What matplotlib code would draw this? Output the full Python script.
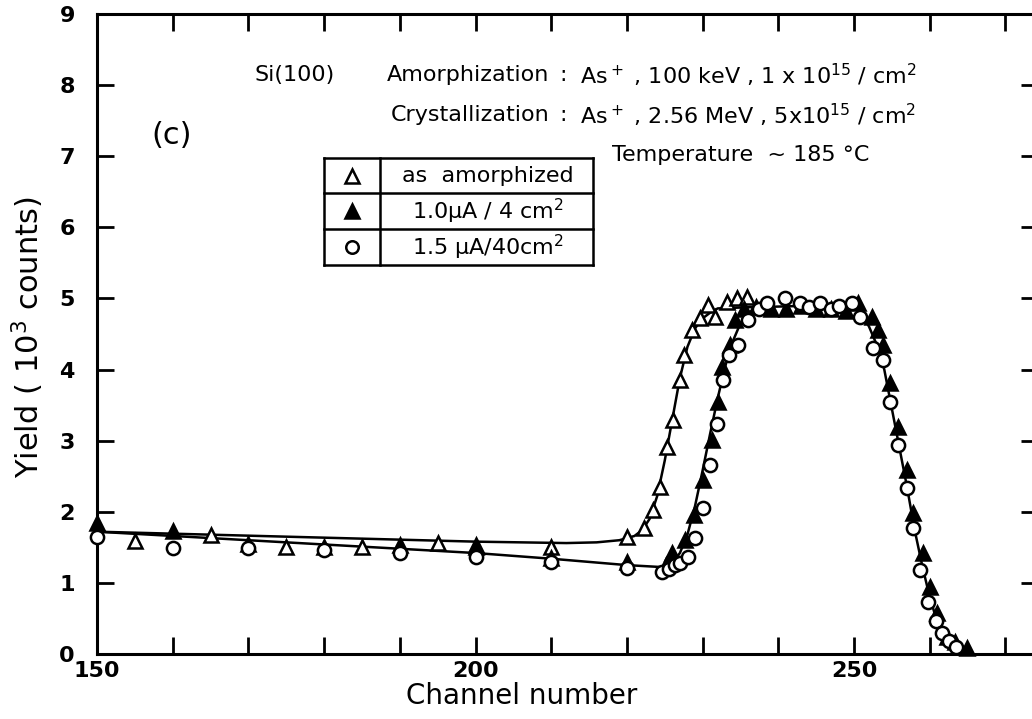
import matplotlib
matplotlib.use('Agg')
import matplotlib.pyplot as plt
from matplotlib.lines import Line2D

plt.rcParams['font.family'] = ['DejaVu Sans']
plt.rcParams['mathtext.default'] = 'regular'

W, H = 1032, 719

# open triangles: as amorphized
amorph_x = [155, 165, 175, 185, 195, 200, 210, 220, 222.2, 223.4, 224.4, 225.3, 226.1,
            227.0, 227.6, 228.6, 229.7, 230.7, 231.7, 233.2, 234.6, 235.9]
amorph_y = [1.59, 1.67, 1.51, 1.51, 1.56, 1.53, 1.51, 1.65, 1.77, 2.03, 2.35, 2.91, 3.29,
            3.85, 4.20, 4.56, 4.73, 4.91, 4.74, 4.95, 5.00, 5.02]

# filled triangles: 1.0 uA/4 cm2
low_x = [150, 160, 170, 180, 190, 200, 210, 220, 225.2, 226.0, 227.7, 228.8, 230.0, 231.2,
         232.1, 232.6, 233.6, 234.3, 235.5, 237, 239, 241, 243, 245, 247, 249, 250.5,
         252.4, 253.2, 253.8, 254.7, 255.8, 257.0, 257.8, 259.1, 260.0, 261.0, 262.3,
         263.3, 264.9]
low_y = [1.84, 1.73, 1.55, 1.50, 1.53, 1.50, 1.35, 1.30, 1.25, 1.42, 1.60, 1.95, 2.45, 3.01,
         3.54, 4.04, 4.35, 4.70, 4.85, 4.88, 4.85, 4.85, 4.90, 4.85, 4.85, 4.82, 4.94,
         4.74, 4.56, 4.35, 3.81, 3.19, 2.59, 1.98, 1.42, 0.94, 0.58, 0.24, 0.17, 0.08]

# open circles: 1.5 uA/40 cm2
high_x = [150, 160, 170, 180, 190, 200, 210, 220, 224.7, 225.5, 226.3, 227.0, 228.1, 229.0,
          230.0, 231.0, 231.9, 232.7, 233.5, 234.7, 236.0, 237.5, 238.5, 240.9, 242.9,
          244.0, 245.5, 247.0, 248.0, 249.7, 250.8, 252.5, 253.8, 254.7, 255.8, 257.0,
          257.8, 258.7, 259.8, 260.8, 261.6, 262.5, 263.5]
high_y = [1.65, 1.49, 1.49, 1.46, 1.42, 1.36, 1.29, 1.21, 1.16, 1.20, 1.25, 1.28, 1.36, 1.63,
          2.05, 2.66, 3.23, 3.85, 4.20, 4.35, 4.70, 4.85, 4.94, 5.00, 4.94,
          4.88, 4.94, 4.85, 4.90, 4.94, 4.74, 4.30, 4.13, 3.54, 2.94, 2.33,
          1.77, 1.18, 0.73, 0.46, 0.30, 0.18, 0.10]

# hand drawn guide curves
fit_a_x = [150, 200, 212, 216, 219, 221, 222, 223, 224, 225, 226, 227, 228, 229, 230,
           231, 232, 237]
fit_a_y = [1.72, 1.58, 1.56, 1.57, 1.60, 1.66, 1.74, 1.90, 2.22, 2.72, 3.30, 3.88, 4.32,
           4.58, 4.72, 4.80, 4.86, 4.88]
fit_c_x = [150, 200, 210, 220, 225, 226, 227, 228, 229, 230, 231, 232, 233, 234, 235,
           236, 238, 245, 250, 251, 252, 253, 254, 255, 256, 257, 258, 259, 260, 261,
           262, 263, 264, 265]
fit_c_y = [1.72, 1.42, 1.34, 1.25, 1.22, 1.28, 1.42, 1.68, 2.08, 2.58, 3.10, 3.60, 4.05,
           4.40, 4.65, 4.80, 4.88, 4.90, 4.88, 4.80, 4.60, 4.35, 4.00, 3.45, 2.90, 2.35,
           1.75, 1.25, 0.80, 0.45, 0.20, 0.08, 0.02, 0.0]

legend_labels = ['as  amorphized', '1.0\u03bcA / 4 cm$^2$', '1.5 \u03bcA/40cm$^2$']


def fx(px):
    return px / W


def fy(py):
    return 1 - py / H


fig = plt.figure(figsize=(W / 100, H / 100), dpi=100)
ax = fig.add_axes([fx(97), fy(654), (1038 - 97) / W, (654 - 14) / H])

ax.plot(fit_a_x, fit_a_y, color='black', lw=1.8, zorder=2)
ax.plot(fit_c_x, fit_c_y, color='black', lw=1.8, zorder=2)

mk = dict(ls='none', markeredgecolor='black', markeredgewidth=1.8, clip_on=False, zorder=3)
ax.plot(amorph_x, amorph_y, marker='^', markersize=10.5, markerfacecolor='white', **mk)
ax.plot(low_x, low_y, marker='^', markersize=10.5, markerfacecolor='black', **mk)
ax.plot(high_x, high_y, marker='o', markersize=9.5, markerfacecolor='white', **mk)

ax.set_xlim(150, 150 + (1038 - 97) / 7.57)
ax.set_ylim(0, 9)
ax.set_xticks([150, 200, 250])
ax.set_xticks(range(150, 275, 10), minor=True)
ax.set_yticks(range(0, 10))
ax.tick_params(which='both', direction='in', top=True, right=True, width=2, length=12)
ax.tick_params(axis='x', pad=5, labelsize=16)
ax.tick_params(axis='y', pad=16, labelsize=16)
for lab in ax.get_xticklabels() + ax.get_yticklabels():
    lab.set_fontweight('bold')
for sp in ax.spines.values():
    sp.set_linewidth(2.2)

fig.text(fx(522), fy(696), 'Channel number', fontsize=20, ha='center', va='center')
fig.text(fx(28), fy(337), 'Yield ( 10$^3$ counts)', fontsize=22, rotation=90,
         ha='center', va='center')
fig.text(fx(172), fy(135), '(c)', fontsize=22, ha='center', va='center')

fs = 16
fig.text(fx(255), fy(75), 'Si(100)', fontsize=fs, va='center')
fig.text(fx(549), fy(75), 'Amorphization', fontsize=fs, va='center', ha='right')
fig.text(fx(549), fy(115), 'Crystallization', fontsize=fs, va='center', ha='right')
fig.text(fx(563), fy(75), ':', fontsize=fs, va='center', ha='center')
fig.text(fx(563), fy(115), ':', fontsize=fs, va='center', ha='center')
fig.text(fx(580), fy(75), 'As$^+$ , 100 keV , 1 x 10$^{15}$ / cm$^2$', fontsize=fs, va='center')
fig.text(fx(580), fy(115), 'As$^+$ , 2.56 MeV , 5x10$^{15}$ / cm$^2$', fontsize=fs, va='center')
fig.text(fx(612), fy(155), 'Temperature  ~ 185 \u00b0C', fontsize=fs, va='center')

# legend box drawn as a small table
bx0, bx1, bcol = 324, 593, 380
rows = [158, 193, 229, 265]
lw_box = 1.8
for r in rows:
    fig.add_artist(Line2D([fx(bx0), fx(bx1)], [fy(r), fy(r)], color='black', lw=lw_box))
for c in [bx0, bcol, bx1]:
    fig.add_artist(Line2D([fx(c), fx(c)], [fy(rows[0]), fy(rows[-1])], color='black', lw=lw_box))

markers = [('^', 'white', 10), ('^', 'black', 10), ('o', 'white', 9)]
for i, (m, fc, ms) in enumerate(markers):
    yc = (rows[i] + rows[i + 1]) / 2
    fig.add_artist(Line2D([fx(352)], [fy(yc)], marker=m, markersize=ms, markerfacecolor=fc,
                          markeredgecolor='black', markeredgewidth=1.8, ls='none'))
    fig.text(fx(488), fy(yc), legend_labels[i], fontsize=fs, ha='center', va='center')

fig.savefig('out.png', dpi=100)
